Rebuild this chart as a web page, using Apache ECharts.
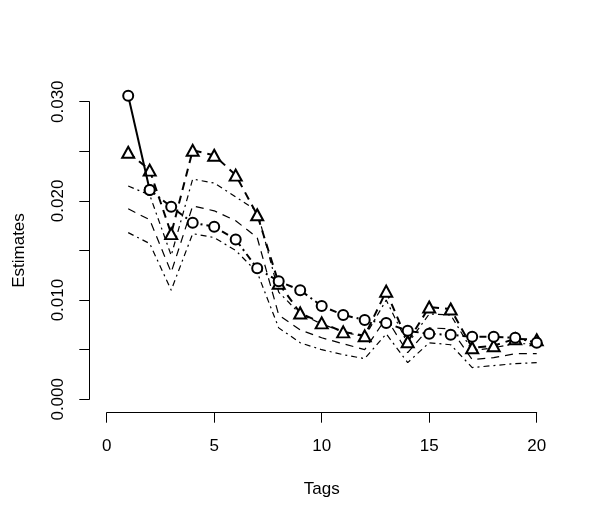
<!DOCTYPE html>
<html>
<head>
<meta charset="utf-8">
<script src="https://cdn.jsdelivr.net/npm/echarts@6/dist/echarts.min.js"></script>
<style>html,body{margin:0;padding:0;background:#fff;}#c{width:600px;height:523px;}</style>
</head>
<body>
<div id="c"></div>
<script>
var tags = [1,2,3,4,5,6,7,8,9,10,11,12,13,14,15,16,17,18,19,20];
var circles = [0.0306,0.0211,0.0194,0.0178,0.0174,0.0161,0.0132,0.0119,0.0110,0.0094,0.0085,0.0080,0.0077,0.0069,0.0066,0.0065,0.0063,0.0063,0.0062,0.0057];
var triangles = [0.0249,0.0231,0.0167,0.0251,0.0246,0.0226,0.0186,0.0117,0.0087,0.0077,0.0068,0.0064,0.0109,0.0058,0.0093,0.0091,0.0052,0.0054,0.0061,0.0060];
var upper = [0.0215,0.0206,0.0145,0.0222,0.0218,0.0204,0.0190,0.0108,0.0086,0.0076,0.0068,0.0063,0.0100,0.0056,0.0086,0.0085,0.0049,0.0052,0.0056,0.0056];
var middle = [0.0192,0.0181,0.0128,0.0195,0.0190,0.0180,0.0163,0.0085,0.0070,0.0062,0.0056,0.0050,0.0082,0.0047,0.0072,0.0071,0.0040,0.0042,0.0046,0.0046];
var lower = [0.0168,0.0157,0.0110,0.0167,0.0163,0.0150,0.0128,0.0072,0.0057,0.0050,0.0045,0.0041,0.0066,0.0037,0.0057,0.0055,0.0032,0.0034,0.0036,0.0037];
var xTickLabels = ['0','5','10','15','20'];
var yTickLabels = ['0.000','','0.010','','0.020','','0.030'];

function pairs(ys){ return ys.map(function(v,i){ return [tags[i], v]; }); }
var FONT = 'Liberation Sans';
var chart = echarts.init(document.getElementById('c'), null, {renderer:'canvas'});
var dotdash = [6,4,2,4];
chart.setOption({
  animation:false,
  backgroundColor:'#fff',
  grid:{left:106.7, right:63.3, top:101.7, bottom:123.7},
  xAxis:{
    type:'value', min:0, max:20, interval:5, offset:13.4,
    name:'Tags', nameLocation:'middle', nameGap:68,
    nameTextStyle:{fontFamily:FONT, fontSize:17, color:'#000'},
    axisLine:{show:true, onZero:false, lineStyle:{color:'#000', width:1}},
    axisTick:{show:true, length:10, lineStyle:{color:'#000'}},
    axisLabel:{fontFamily:FONT, fontSize:17, color:'#000', margin:25,
      formatter:function(v,i){ return xTickLabels[i]; }},
    splitLine:{show:false}
  },
  yAxis:{
    type:'value', min:0, max:0.030, interval:0.005, offset:17.4,
    name:'Estimates', nameLocation:'middle', nameGap:61,
    nameTextStyle:{fontFamily:FONT, fontSize:17, color:'#000'},
    axisLine:{show:true, onZero:false, lineStyle:{color:'#000', width:1}},
    axisTick:{show:true, length:10, lineStyle:{color:'#000'}},
    axisLabel:{fontFamily:FONT, fontSize:17, color:'#000', margin:22, rotate:90,
      formatter:function(v,i){ return yTickLabels[i]; }},
    splitLine:{show:false}
  },
  series:[
    {type:'line', data:pairs(upper), symbol:'none', clip:false, z:2,
      lineStyle:{color:'#000', width:1.2, type:dotdash}},
    {type:'line', data:pairs(middle), symbol:'none', clip:false, z:2,
      lineStyle:{color:'#000', width:1.2, type:[8,6]}},
    {type:'line', data:pairs(lower), symbol:'none', clip:false, z:2,
      lineStyle:{color:'#000', width:1.2, type:dotdash}},
    {type:'line', data:pairs(triangles), symbol:'emptyTriangle', symbolSize:[12,11], clip:false, z:3,
      itemStyle:{color:'#000', borderWidth:2},
      lineStyle:{color:'#000', width:2, type:[8,6]}},
    {type:'line', data:pairs(circles).slice(1), symbol:'emptyCircle', symbolSize:10, clip:false, z:4,
      itemStyle:{color:'#000', borderWidth:2},
      lineStyle:{color:'#000', width:2, type:[7,4,2,4]}},
    {type:'line', data:pairs(circles).slice(0,2), symbol:'emptyCircle', symbolSize:10, clip:false, z:4,
      itemStyle:{color:'#000', borderWidth:2},
      lineStyle:{color:'#000', width:2, type:'solid'}}
  ]
});
</script>
</body>
</html>
